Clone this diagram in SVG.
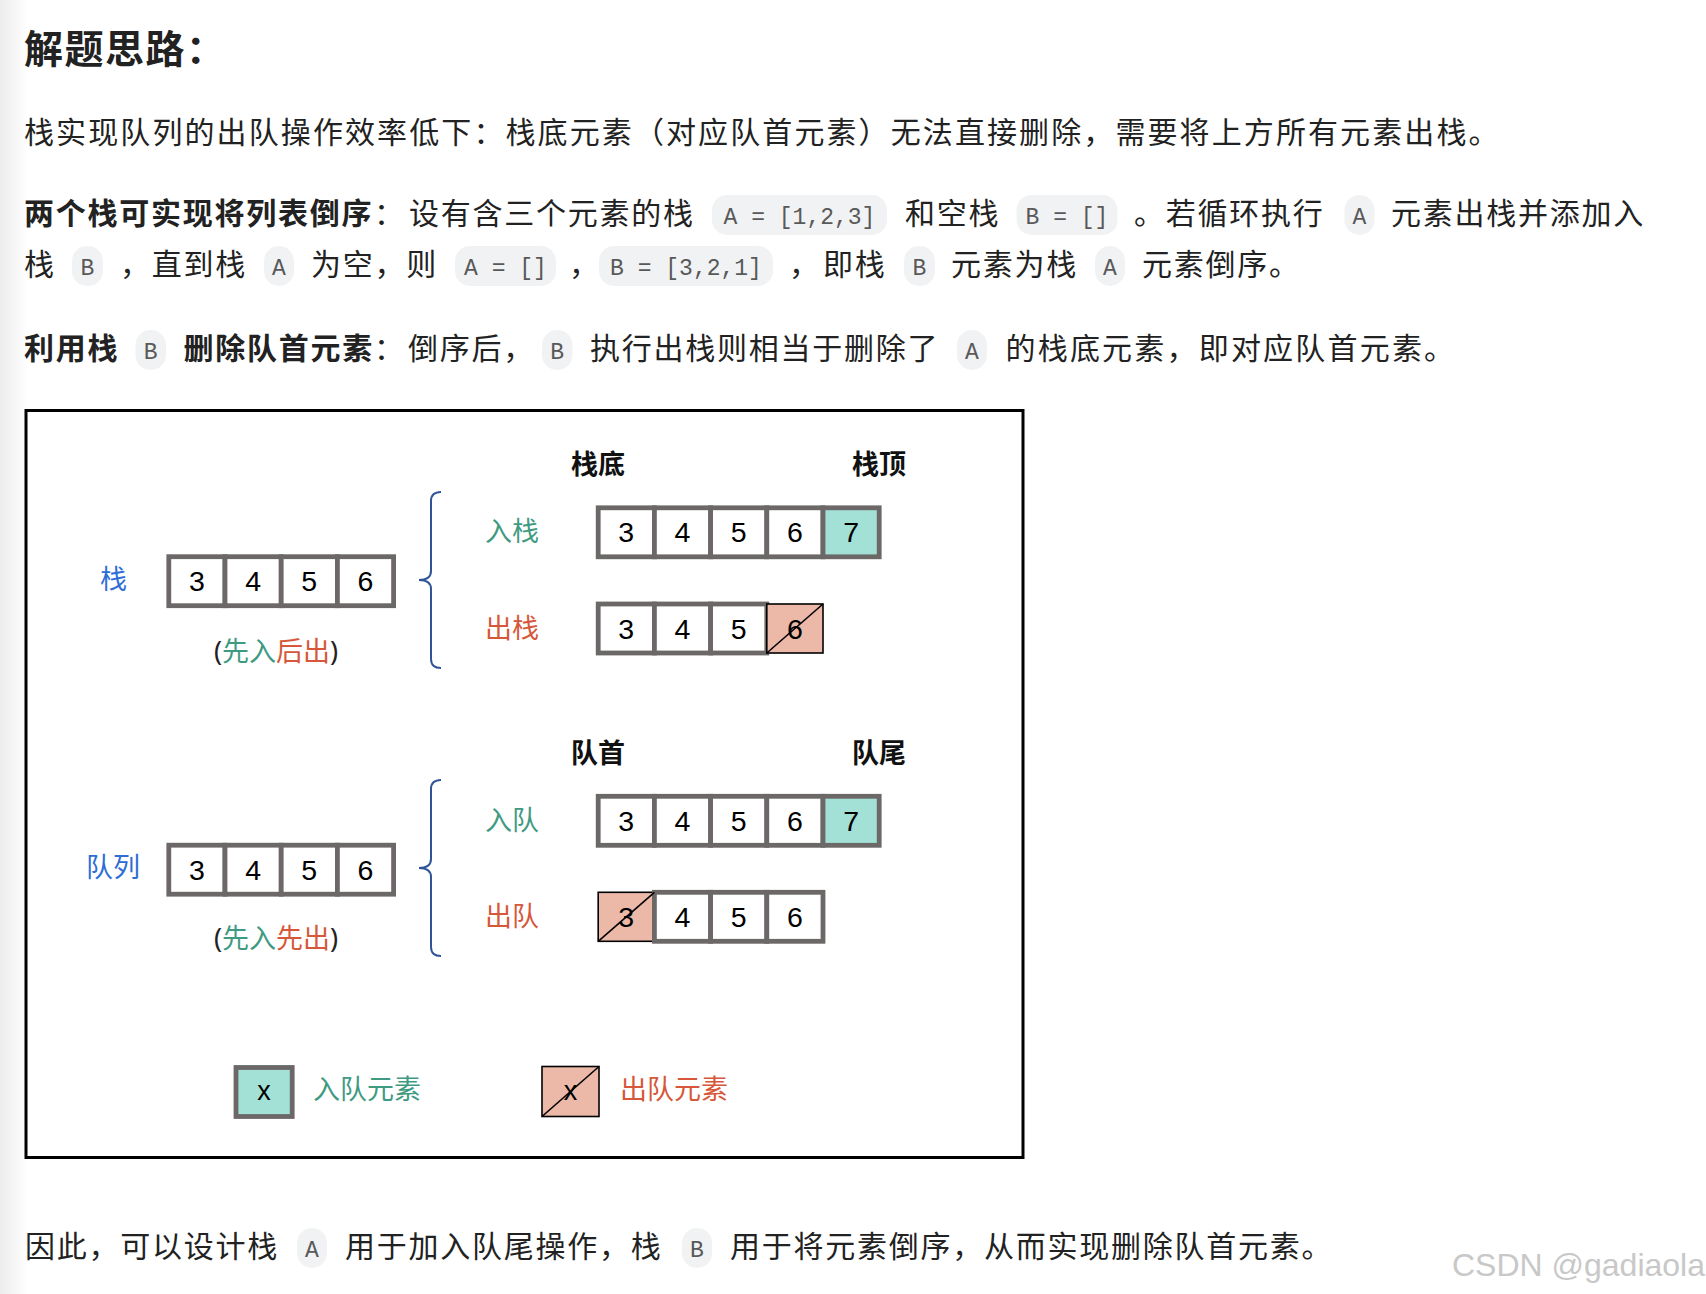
<svg xmlns="http://www.w3.org/2000/svg" width="1706" height="1294" viewBox="0 0 1706 1294">
<defs>
<linearGradient id="edge" x1="0" y1="0" x2="1" y2="0">
<stop offset="0" stop-color="#ececec"/>
<stop offset="1" stop-color="#ffffff"/>
</linearGradient>
<style>
.t{font-family:"Noto Sans","Noto Sans CJK SC",sans-serif;font-size:30px;letter-spacing:1.75px;fill:#222}
.tb{font-weight:bold}
.h{font-family:"Noto Sans","Noto Sans CJK SC",sans-serif;font-size:39px;letter-spacing:1.5px;font-weight:bold;fill:#222}
.pill{fill:#f1f2f3}
.code{font-family:"Liberation Mono","DejaVu Sans Mono",monospace;font-size:23px;fill:#595959;text-anchor:middle}
.lbl{font-family:"Noto Sans","Noto Sans CJK SC",sans-serif;font-size:27px}
.blk{fill:#111;font-weight:bold}
.blue{fill:#2e6dd6}
.green{fill:#3f9a82}
.red{fill:#d6573a}
.dark{fill:#222}
.cell{fill:#fff;stroke:#6b6867;stroke-width:4.8}
.push{fill:#a3e0d6;stroke:#6b6867;stroke-width:4.8}
.pop{fill:#ecb9a9;stroke:#000;stroke-width:1.6}
.diag{stroke:#000;stroke-width:1.6}
.num{font-family:"Liberation Sans",Arial,sans-serif;font-size:28.5px;text-anchor:middle;fill:#000}
.brace{fill:none;stroke:#2f5597;stroke-width:2}
</style>
</defs>
<rect x="0" y="0" width="1706" height="1294" fill="#fff"/>
<rect x="0" y="0" width="28" height="1294" fill="url(#edge)"/>

<g id="text-top">
<text class="h" x="24" y="63">解题思路：</text>
<text class="t" x="24" y="143" style="letter-spacing:2.1px">栈实现队列的出队操作效率低下：栈底元素（对应队首元素）无法直接删除，需要将上方所有元素出栈。</text>

<text class="t tb" x="24" y="224">两个栈可实现将列表倒序</text>
<text class="t" x="374" y="224">：</text>
<text class="t" x="409" y="224">设有含三个元素的栈</text>
<rect class="pill" x="712" y="195" width="175" height="40" rx="15"/>
<text class="code" x="799.5" y="224">A = [1,2,3]</text>
<text class="t" x="905" y="224">和空栈</text>
<rect class="pill" x="1016.5" y="195" width="101" height="40" rx="15"/>
<text class="code" x="1067" y="224">B = []</text>
<text class="t" x="1134" y="224">。若循环执行</text>
<rect class="pill" x="1344.5" y="195" width="30" height="40" rx="15"/>
<text class="code" x="1359.5" y="224">A</text>
<text class="t" x="1391" y="224">元素出栈并添加入</text>

<text class="t" x="24" y="275">栈</text>
<rect class="pill" x="72" y="246" width="31" height="40" rx="15"/>
<text class="code" x="87.5" y="275">B</text>
<text class="t" x="120" y="275">，直到栈</text>
<rect class="pill" x="264" y="246" width="30" height="40" rx="15"/>
<text class="code" x="279" y="275">A</text>
<text class="t" x="311" y="275">为空，则</text>
<rect class="pill" x="455" y="246" width="101" height="40" rx="15"/>
<text class="code" x="505.5" y="275">A = []</text>
<text class="t" x="569" y="275">，</text>
<rect class="pill" x="599" y="246" width="174" height="40" rx="15"/>
<text class="code" x="686" y="275">B = [3,2,1]</text>
<text class="t" x="789" y="275">，</text>
<text class="t" x="823" y="275">即栈</text>
<rect class="pill" x="904" y="246" width="31" height="40" rx="15"/>
<text class="code" x="919.5" y="275">B</text>
<text class="t" x="951" y="275">元素为栈</text>
<rect class="pill" x="1095" y="246" width="30" height="40" rx="15"/>
<text class="code" x="1110" y="275">A</text>
<text class="t" x="1142" y="275">元素倒序。</text>

<text class="t tb" x="24" y="359">利用栈</text>
<rect class="pill" x="135.5" y="330" width="30.5" height="40" rx="15"/>
<text class="code" x="150.75" y="359">B</text>
<text class="t tb" x="183.5" y="359">删除队首元素</text>
<text class="t" x="374" y="359">：</text>
<text class="t" x="408" y="359">倒序后，</text>
<rect class="pill" x="542" y="330" width="30.5" height="40" rx="15"/>
<text class="code" x="557.25" y="359">B</text>
<text class="t" x="590" y="359">执行出栈则相当于删除了</text>
<rect class="pill" x="957" y="330" width="30" height="40" rx="15"/>
<text class="code" x="972" y="359">A</text>
<text class="t" x="1005.5" y="359" style="letter-spacing:2.2px">的栈底元素，即对应队首元素。</text>
</g>

<rect id="frame" x="26" y="410.5" width="997" height="747" fill="none" stroke="#000" stroke-width="3"/>

<g id="connectors">
<path class="brace" d="M441,492 Q431,492 431,501 L431,571 Q431,580 419,580 Q431,580 431,589 L431,659 Q431,668 441,668"/>
<path class="brace" d="M441,780 Q431,780 431,789 L431,859 Q431,868 419,868 Q431,868 431,877 L431,947 Q431,956 441,956"/>
</g>

<g id="stack-label">
<text class="lbl blue" x="100" y="589">栈</text>
</g>
<g id="stack-array">
<rect class="cell" x="168.8" y="556.7" width="56.2" height="49"/>
<rect class="cell" x="225" y="556.7" width="56.2" height="49"/>
<rect class="cell" x="281.2" y="556.7" width="56.2" height="49"/>
<rect class="cell" x="337.4" y="556.7" width="56.2" height="49"/>
<text class="num" x="196.9" y="591.2">3</text>
<text class="num" x="253.1" y="591.2">4</text>
<text class="num" x="309.3" y="591.2">5</text>
<text class="num" x="365.5" y="591.2">6</text>
</g>
<g id="stack-note">
<text class="lbl" x="214" y="661"><tspan class="dark">(</tspan><tspan class="green">先入</tspan><tspan class="red">后出</tspan><tspan class="dark">)</tspan></text>
</g>
<g id="stack-ends">
<text class="lbl blk" x="571" y="474">栈底</text>
<text class="lbl blk" x="852" y="474">栈顶</text>
</g>
<g id="stack-push">
<text class="lbl green" x="485" y="541">入栈</text>
<rect class="cell" x="598.2" y="507.8" width="56.2" height="49"/>
<rect class="cell" x="654.4" y="507.8" width="56.2" height="49"/>
<rect class="cell" x="710.6" y="507.8" width="56.2" height="49"/>
<rect class="cell" x="766.8" y="507.8" width="56.2" height="49"/>
<rect class="push" x="823" y="507.8" width="56.2" height="49"/>
<text class="num" x="626.3" y="542.3">3</text>
<text class="num" x="682.5" y="542.3">4</text>
<text class="num" x="738.7" y="542.3">5</text>
<text class="num" x="794.9" y="542.3">6</text>
<text class="num" x="851.1" y="542.3">7</text>
</g>
<g id="stack-pop">
<text class="lbl red" x="485" y="637.5">出栈</text>
<rect class="cell" x="598.2" y="604" width="56.2" height="49"/>
<rect class="cell" x="654.4" y="604" width="56.2" height="49"/>
<rect class="cell" x="710.6" y="604" width="56.2" height="49"/>
<rect class="pop" x="766.8" y="604" width="56.2" height="49"/>
<text class="num" x="626.3" y="638.5">3</text>
<text class="num" x="682.5" y="638.5">4</text>
<text class="num" x="738.7" y="638.5">5</text>
<text class="num" x="794.9" y="638.5">6</text>
<line class="diag" x1="766.8" y1="653" x2="823" y2="604"/>
</g>

<g id="queue-label">
<text class="lbl blue" x="86" y="877">队列</text>
</g>
<g id="queue-array">
<rect class="cell" x="168.8" y="845.2" width="56.2" height="49"/>
<rect class="cell" x="225" y="845.2" width="56.2" height="49"/>
<rect class="cell" x="281.2" y="845.2" width="56.2" height="49"/>
<rect class="cell" x="337.4" y="845.2" width="56.2" height="49"/>
<text class="num" x="196.9" y="879.7">3</text>
<text class="num" x="253.1" y="879.7">4</text>
<text class="num" x="309.3" y="879.7">5</text>
<text class="num" x="365.5" y="879.7">6</text>
</g>
<g id="queue-note">
<text class="lbl" x="214" y="948"><tspan class="dark">(</tspan><tspan class="green">先入</tspan><tspan class="red">先出</tspan><tspan class="dark">)</tspan></text>
</g>
<g id="queue-ends">
<text class="lbl blk" x="571" y="763">队首</text>
<text class="lbl blk" x="852" y="763">队尾</text>
</g>
<g id="queue-push">
<text class="lbl green" x="485" y="830">入队</text>
<rect class="cell" x="598.2" y="796.3" width="56.2" height="49"/>
<rect class="cell" x="654.4" y="796.3" width="56.2" height="49"/>
<rect class="cell" x="710.6" y="796.3" width="56.2" height="49"/>
<rect class="cell" x="766.8" y="796.3" width="56.2" height="49"/>
<rect class="push" x="823" y="796.3" width="56.2" height="49"/>
<text class="num" x="626.3" y="830.8">3</text>
<text class="num" x="682.5" y="830.8">4</text>
<text class="num" x="738.7" y="830.8">5</text>
<text class="num" x="794.9" y="830.8">6</text>
<text class="num" x="851.1" y="830.8">7</text>
</g>
<g id="queue-pop">
<text class="lbl red" x="485" y="925.5">出队</text>
<rect class="pop" x="598.2" y="892.3" width="56.2" height="49"/>
<rect class="cell" x="654.4" y="892.3" width="56.2" height="49"/>
<rect class="cell" x="710.6" y="892.3" width="56.2" height="49"/>
<rect class="cell" x="766.8" y="892.3" width="56.2" height="49"/>
<text class="num" x="626.3" y="926.8">3</text>
<text class="num" x="682.5" y="926.8">4</text>
<text class="num" x="738.7" y="926.8">5</text>
<text class="num" x="794.9" y="926.8">6</text>
<line class="diag" x1="598.2" y1="941.3" x2="654.4" y2="892.3"/>
</g>

<g id="legend-push">
<rect class="push" x="236" y="1067.5" width="56.2" height="49"/>
<text class="num" x="264" y="1100" style="font-size:27px">x</text>
<text class="lbl green" x="313" y="1099">入队元素</text>
</g>
<g id="legend-pop">
<rect class="pop" x="542" y="1066.5" width="57" height="50"/>
<text class="num" x="570.5" y="1100" style="font-size:27px">x</text>
<line class="diag" x1="542" y1="1116.5" x2="599" y2="1066.5"/>
<text class="lbl red" x="620" y="1099">出队元素</text>
</g>

<g id="text-bottom">
<text class="t" x="25" y="1257">因此，可以设计栈</text>
<rect class="pill" x="297" y="1228" width="30" height="40" rx="15"/>
<text class="code" x="312" y="1257">A</text>
<text class="t" x="345" y="1257">用于加入队尾操作，栈</text>
<rect class="pill" x="682" y="1228" width="30" height="40" rx="15"/>
<text class="code" x="697" y="1257">B</text>
<text class="t" x="730" y="1257">用于将元素倒序，从而实现删除队首元素。</text>
</g>

<text id="watermark" x="1705" y="1276" text-anchor="end" style="font-family:'Liberation Sans',Arial,sans-serif;font-size:32px;fill:#c8c8c8">CSDN @gadiaola</text>
</svg>
